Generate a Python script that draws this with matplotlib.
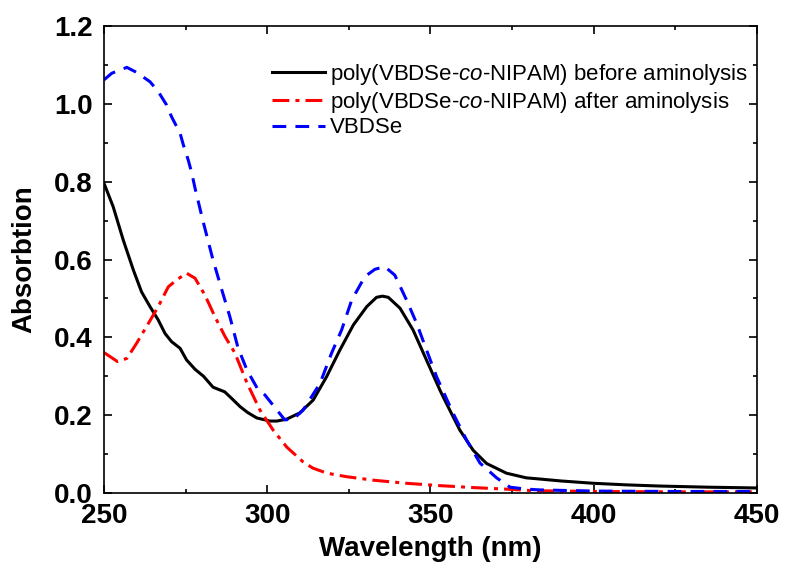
import matplotlib
matplotlib.use('Agg')
import matplotlib.pyplot as plt
from matplotlib.ticker import MultipleLocator

plt.rcParams['mathtext.fontset'] = 'custom'
plt.rcParams['mathtext.it'] = 'Liberation Sans:italic'
plt.rcParams['mathtext.rm'] = 'Liberation Sans'

# valores (nm, absorção)
wl_before = [250, 252.8, 255.9, 259, 261.5, 264.1, 266.6, 268.7, 270.7, 273.3, 275.3, 277.9, 280.5,
             283.4, 287, 289.5, 291.7, 294, 296.8, 300.8, 303, 306, 310, 314.1, 318.2, 322.3, 326.4,
             330.5, 333.5, 335.3, 337.1, 340.7, 344.7, 348.8, 352.9, 354.4, 359, 363.1, 367.2, 373.3,
             379.4, 383.5, 390, 400, 410, 420, 435, 450]
abs_before = [0.796, 0.736, 0.65, 0.573, 0.517, 0.479, 0.445, 0.41, 0.389, 0.372, 0.342, 0.318, 0.30,
              0.272, 0.26, 0.24, 0.222, 0.207, 0.193, 0.185, 0.185, 0.19, 0.206, 0.239, 0.299, 0.368, 0.432,
              0.479, 0.503, 0.506, 0.503, 0.475, 0.419, 0.342, 0.265, 0.239, 0.162, 0.11, 0.076, 0.051,
              0.039, 0.036, 0.031, 0.025, 0.021, 0.018, 0.015, 0.013]

wl_after = [250, 254.1, 257, 260, 263.6, 266.6, 269.7, 272.3, 275.3, 277.9, 280.9, 284, 287.1, 290.1,
            293.8, 297.8, 301.8, 306, 311, 314, 318.3, 324.3, 332.5, 342.7, 352.9, 363.1, 373.3, 381.5,
            400, 425, 450]
abs_after = [0.361, 0.338, 0.346, 0.385, 0.436, 0.479, 0.53, 0.548, 0.565, 0.552, 0.509, 0.453, 0.402, 0.36,
             0.283, 0.213, 0.162, 0.118, 0.08, 0.064, 0.051, 0.042, 0.033, 0.025, 0.019, 0.014, 0.010, 0.006,
             0.004, 0.003, 0.003]

wl_vbdse = [250, 252.4, 257, 260, 264.1, 266.6, 269.2, 270.7, 273.3, 274.3, 275.8, 276.9, 277.9, 280.3,
            283.4, 286.1, 288.6, 291, 293.8, 296.9, 299.3, 303, 305.4, 308, 311, 316.2, 319.7, 322.8,
            325.9, 329.9, 333, 336, 339.1, 342.7, 345.8, 348.8, 351.9, 356.9, 361.1, 365.2, 370.3, 374.4,
            379.4, 383.5, 400, 425, 450]
abs_vbdse = [1.062, 1.079, 1.094, 1.081, 1.057, 1.032, 0.997, 0.967, 0.925, 0.895, 0.856, 0.822, 0.783, 0.70,
             0.599, 0.522, 0.452, 0.375, 0.316, 0.27, 0.252, 0.213, 0.188, 0.19, 0.213, 0.282, 0.359, 0.419,
             0.496, 0.556, 0.575, 0.582, 0.56, 0.496, 0.436, 0.368, 0.299, 0.206, 0.136, 0.077, 0.039, 0.015,
             0.01, 0.008, 0.005, 0.004, 0.004]

fig = plt.figure(figsize=(7.85, 5.68), dpi=100)
ax = fig.add_axes([0.1325, 0.132, 0.8315, 0.822])

lw = 2.2
ax.plot(wl_before, abs_before, color='black', lw=lw,
        label='poly(VBDSe-$\\it{co}$-NIPAM) before aminolysis')
ax.plot(wl_after, abs_after, color='red', lw=lw, dashes=(5.5, 2, 1.3, 2),
        label='poly(VBDSe-$\\it{co}$-NIPAM) after aminolysis')
ax.plot(wl_vbdse, abs_vbdse, color='blue', lw=lw, dashes=(4.5, 3), label='VBDSe')

ax.set_xlim(250, 450)
ax.set_ylim(0, 1.2)
ax.xaxis.set_major_locator(MultipleLocator(50))
ax.xaxis.set_minor_locator(MultipleLocator(25))
ax.yaxis.set_major_locator(MultipleLocator(0.2))
ax.yaxis.set_minor_locator(MultipleLocator(0.1))
ax.tick_params(which='both', direction='in', top=True, right=True, width=1.2)
ax.tick_params(which='major', length=6)
ax.tick_params(which='minor', length=3)
ax.tick_params(axis='x', pad=7)
ax.tick_params(axis='y', pad=8)
for s in ax.spines.values():
    s.set_linewidth(1.2)

tick_font = {'family': 'Liberation Sans', 'weight': 'bold', 'size': 20}
ax.set_xticks([250, 300, 350, 400, 450])
ax.set_xticklabels(['250', '300', '350', '400', '450'], fontdict=tick_font)
ax.set_yticks([0, 0.2, 0.4, 0.6, 0.8, 1.0, 1.2])
ax.set_yticklabels(['0.0', '0.2', '0.4', '0.6', '0.8', '1.0', '1.2'], fontdict=tick_font)

ax.set_xlabel('Wavelength (nm)', family='Liberation Sans', weight='bold', size=20, labelpad=5)
ax.set_ylabel('Absorbtion', family='Liberation Sans', weight='bold', size=20, labelpad=12)

leg = ax.legend(loc='upper right', bbox_to_anchor=(1.0, 0.942), frameon=False,
                prop={'family': 'Liberation Sans', 'size': 16}, handlelength=2.4,
                handletextpad=0.22, labelspacing=0.12, borderaxespad=0.0, borderpad=0.4)

fig.savefig('out.png', dpi=100)
